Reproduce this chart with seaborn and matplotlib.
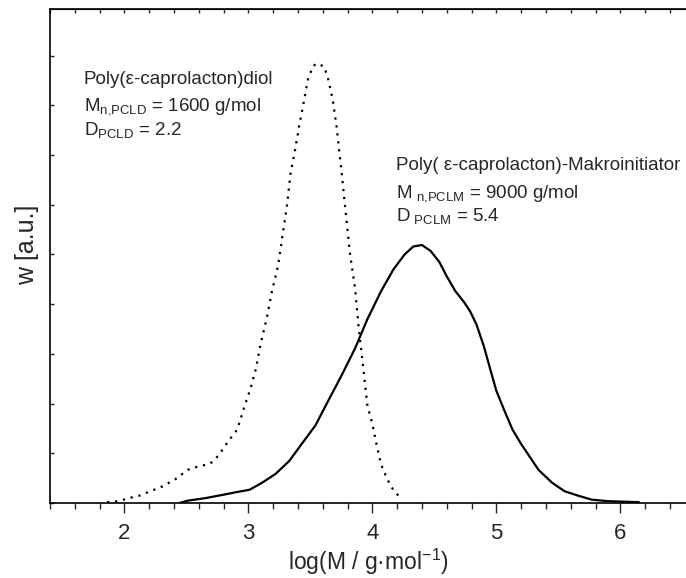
import numpy as np
import pandas as pd
import matplotlib
matplotlib.use("Agg")
import matplotlib.pyplot as plt
from matplotlib.ticker import MultipleLocator
import seaborn as sns

# PCLD (dotted) distribution
pcld_logm = [1.86, 1.95, 2.05, 2.12, 2.23, 2.30, 2.41, 2.51, 2.60, 2.69, 2.76, 2.83, 2.91,
             2.97, 3.02, 3.06, 3.10, 3.15, 3.19, 3.24, 3.27, 3.31, 3.34, 3.38, 3.41, 3.45,
             3.48, 3.52, 3.55, 3.61, 3.64, 3.68, 3.71, 3.75, 3.78, 3.82, 3.86, 3.89, 3.93,
             3.96, 4.00, 4.03, 4.07, 4.12, 4.17, 4.24]
pcld_w = [0.002, 0.004, 0.011, 0.015, 0.026, 0.033, 0.048, 0.067, 0.074, 0.079, 0.096, 0.122, 0.148,
          0.196, 0.233, 0.270, 0.322, 0.374, 0.426, 0.478, 0.530, 0.596, 0.663, 0.715, 0.759, 0.811,
          0.852, 0.878, 0.884, 0.878, 0.856, 0.811, 0.759, 0.670, 0.596, 0.500, 0.433, 0.352, 0.263,
          0.196, 0.159, 0.122, 0.078, 0.048, 0.026, 0.007]

# PCLM (solid) distribution
pclm_logm = [2.44, 2.51, 2.65, 2.80, 2.90, 3.01, 3.11, 3.22, 3.33, 3.43, 3.54, 3.64, 3.75,
             3.86, 3.96, 4.07, 4.17, 4.26, 4.33, 4.40, 4.47, 4.54, 4.60, 4.67, 4.74, 4.79,
             4.84, 4.90, 4.95, 5.00, 5.06, 5.13, 5.20, 5.27, 5.34, 5.45, 5.55, 5.66, 5.77,
             5.90, 6.15]
pclm_w = [0.000, 0.005, 0.010, 0.017, 0.022, 0.027, 0.041, 0.059, 0.085, 0.119, 0.156, 0.204, 0.256,
          0.311, 0.370, 0.426, 0.470, 0.500, 0.516, 0.519, 0.507, 0.485, 0.456, 0.426, 0.404, 0.385,
          0.359, 0.315, 0.270, 0.226, 0.189, 0.148, 0.119, 0.093, 0.067, 0.041, 0.024, 0.015, 0.007,
          0.004, 0.002]

x_ticks = [2, 3, 4, 5, 6]
x_label = "log(M / g·mol$^{-1}$)"
y_label = "w [a.u.]"

pcld_title = "Poly(ε-caprolacton)diol"
pcld_mn = r"$\mathregular{M_{n{,}PCLD}}$ = 1600 g/mol"
pcld_d = r"$\mathregular{D_{PCLD}}$ = 2.2"
pclm_title = "Poly( ε-caprolacton)-Makroinitiator"
pclm_mn = r"$\mathregular{M_{\ n{,}PCLM}}$ = 9000 g/mol"
pclm_d = r"$\mathregular{D_{\ PCLM}}$ = 5.4"

sns.set_style("ticks")
plt.rcParams['font.family'] = ['Liberation Sans', 'DejaVu Sans']
plt.rcParams['mathtext.fontset'] = 'custom'
plt.rcParams['mathtext.rm'] = 'Liberation Sans'

fig = plt.figure(figsize=(6.86, 5.78), dpi=100)
ax = fig.add_axes([0.073, 0.1295, 0.927, 0.8545])

df1 = pd.DataFrame({"x": pcld_logm, "w": pcld_w})
df2 = pd.DataFrame({"x": pclm_logm, "w": pclm_w})
sns.lineplot(data=df1, x="x", y="w", ax=ax, color="black", lw=1.6,
             linestyle=(0, (1, 2.6)), sort=False)
sns.lineplot(data=df2, x="x", y="w", ax=ax, color="black", lw=1.6, sort=False)

ax.set_xlim(1.40, 6.53)
ax.set_ylim(0, 0.993)
ax.xaxis.set_major_locator(MultipleLocator(1))
ax.xaxis.set_minor_locator(MultipleLocator(0.2))
ax.yaxis.set_major_locator(MultipleLocator(0.1))
ax.set_yticklabels([])
ax.set_xticks(x_ticks)
ax.tick_params(axis='x', which='major', direction='out', length=7, width=1, labelsize=16, pad=7)
ax.tick_params(axis='x', which='minor', direction='out', length=4, width=1)
ax.tick_params(axis='y', which='major', direction='in', length=3, width=1, left=True)
ax.tick_params(axis='x', which='both', top=False, labeltop=False)
for side in ['left', 'top', 'bottom']:
    ax.spines[side].set_linewidth(1.2)
    ax.spines[side].set_color('black')
ax.spines['right'].set_visible(False)

top = ax.secondary_xaxis('top')
top.xaxis.set_major_locator(MultipleLocator(0.2))
top.tick_params(direction='in', length=3, width=1, labeltop=False)
top.set_xticklabels([])

ax.set_xlabel(x_label, fontsize=16.5, labelpad=2)
ax.set_ylabel(y_label, fontsize=18)
ax.yaxis.set_label_coords(-0.018, 0.524)

fs = 13.5
ax.text(1.67, 0.842, pcld_title, fontsize=fs, ha='left', va='baseline')
ax.text(1.67, 0.789, pcld_mn, fontsize=fs, ha='left', va='baseline')
ax.text(1.67, 0.741, pcld_d, fontsize=fs, ha='left', va='baseline')
ax.text(4.19, 0.670, pclm_title, fontsize=fs, ha='left', va='baseline')
ax.text(4.19, 0.615, pclm_mn, fontsize=fs, ha='left', va='baseline')
ax.text(4.19, 0.567, pclm_d, fontsize=fs, ha='left', va='baseline')

fig.savefig("out.png", dpi=100)
